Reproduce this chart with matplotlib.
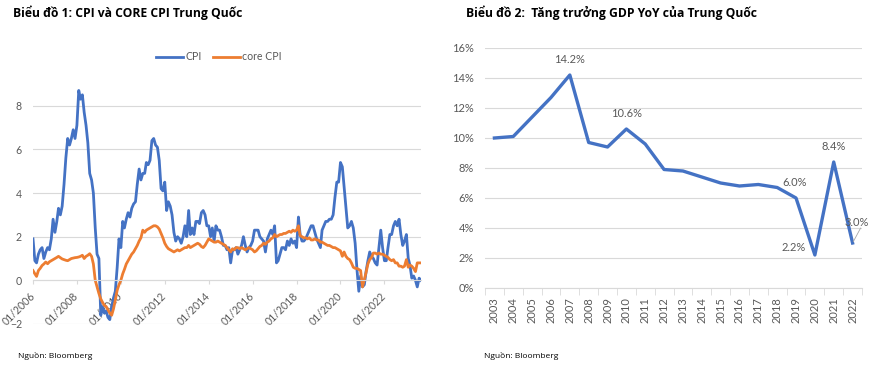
import numpy as np
import pandas as pd
from matplotlib import pyplot as plt
import matplotlib.dates as mdates
from matplotlib.ticker import MultipleLocator

# ---- data ----
# China CPI YoY (%), monthly Jan 2006 - Sep 2023
cpi = [
    1.9, 0.9, 0.8, 1.2, 1.4, 1.5, 1.0, 1.3, 1.5, 1.4, 1.9, 2.8,   # 2006
    2.2, 2.7, 3.3, 3.0, 3.4, 4.4, 5.6, 6.5, 6.2, 6.5, 6.9, 6.5,   # 2007
    7.1, 8.7, 8.3, 8.5, 7.7, 7.1, 6.3, 4.9, 4.6, 4.0, 2.4, 1.2,   # 2008
    1.0, -1.6, -1.2, -1.5, -1.4, -1.7, -1.8, -1.2, -0.8, -0.5, 0.6, 1.9,  # 2009
    1.5, 2.7, 2.4, 2.8, 3.1, 2.9, 3.3, 3.5, 3.6, 4.4, 5.1, 4.6,   # 2010
    4.9, 4.9, 5.4, 5.3, 5.5, 6.4, 6.5, 6.2, 6.1, 5.5, 4.2, 4.1,   # 2011
    4.5, 3.2, 3.6, 3.4, 3.0, 2.2, 1.8, 2.0, 1.9, 1.7, 2.0, 2.5,   # 2012
    2.0, 3.2, 2.1, 2.4, 2.1, 2.7, 2.7, 2.6, 3.1, 3.2, 3.0, 2.5,   # 2013
    2.5, 2.0, 2.4, 1.8, 2.5, 2.3, 2.3, 2.0, 1.6, 1.6, 1.4, 1.5,   # 2014
    0.8, 1.4, 1.4, 1.5, 1.2, 1.4, 1.6, 2.0, 1.6, 1.3, 1.5, 1.6,   # 2015
    1.8, 2.3, 2.3, 2.3, 2.0, 1.9, 1.8, 1.3, 1.9, 2.1, 2.3, 2.1,   # 2016
    2.5, 0.8, 0.9, 1.2, 1.5, 1.5, 1.4, 1.8, 1.6, 1.9, 1.7, 1.8,   # 2017
    1.5, 2.9, 2.1, 1.8, 1.8, 1.9, 2.1, 2.3, 2.5, 2.5, 2.2, 1.9,   # 2018
    1.7, 1.5, 2.3, 2.5, 2.7, 2.7, 2.8, 2.8, 3.0, 3.8, 4.5, 4.5,   # 2019
    5.4, 5.2, 4.3, 3.3, 2.4, 2.5, 2.7, 2.4, 1.7, 0.5, -0.5, 0.2,  # 2020
    -0.3, -0.2, 0.4, 0.9, 1.3, 1.1, 1.0, 0.8, 0.7, 1.5, 2.3, 1.5,  # 2021
    0.9, 0.9, 1.5, 2.1, 2.1, 2.5, 2.7, 2.5, 2.8, 2.1, 1.6, 1.8,   # 2022
    2.1, 1.0, 0.7, 0.1, 0.2, 0.0, -0.3, 0.1, 0.0,                 # 2023
]
# core CPI YoY (%), same months
core_cpi = [
    0.45, 0.3, 0.18, 0.45, 0.55, 0.68, 0.75, 0.84, 0.76, 0.85, 0.9, 0.95,
    1.0, 1.05, 1.1, 1.04, 0.98, 0.95, 0.92, 0.9, 0.95, 1.0, 1.02, 1.04,
    1.05, 1.07, 1.1, 1.15, 1.0, 1.1, 1.15, 1.22, 1.1, 0.75, 0.0, -0.3,
    -0.6, -0.85, -1.0, -1.15, -1.2, -1.35, -1.5, -1.6, -1.3, -0.9, -0.45, -0.2,
    0.0, 0.3, 0.5, 0.75, 0.9, 1.05, 1.2, 1.3, 1.45, 1.6, 1.8, 1.95,
    2.3, 2.2, 2.3, 2.35, 2.4, 2.45, 2.5, 2.5, 2.45, 2.35, 2.15, 1.95,
    1.7, 1.55, 1.45, 1.4, 1.35, 1.3, 1.35, 1.4, 1.35, 1.4, 1.45, 1.5,
    1.5, 1.6, 1.5, 1.55, 1.6, 1.65, 1.7, 1.65, 1.55, 1.5, 1.6, 1.75,
    1.9, 1.85, 1.8, 1.75, 1.75, 1.8, 1.75, 1.7, 1.65, 1.6, 1.5, 1.4,
    1.3, 1.45, 1.4, 1.5, 1.5, 1.45, 1.5, 1.45, 1.4, 1.45, 1.5, 1.45,
    1.4, 1.3, 1.35, 1.45, 1.55, 1.6, 1.7, 1.65, 1.75, 1.8, 1.9, 1.95,
    2.1, 2.0, 2.05, 2.1, 2.1, 2.15, 2.15, 2.2, 2.25, 2.2, 2.3, 2.25,
    2.3, 2.5, 2.05, 2.0, 1.95, 1.95, 1.9, 1.95, 1.85, 1.85, 1.9, 1.85,
    1.85, 1.75, 1.75, 1.7, 1.65, 1.6, 1.6, 1.55, 1.5, 1.5, 1.45, 1.4,
    1.35, 1.1, 1.3, 1.1, 1.0, 0.95, 0.8, 0.6, 0.55, 0.55, 0.5, 0.45,
    -0.3, 0.05, 0.35, 0.75, 0.95, 1.05, 1.25, 1.25, 1.2, 1.25, 1.2, 1.2,
    1.15, 1.1, 1.05, 0.95, 0.9, 0.95, 0.8, 0.8, 0.65, 0.65, 0.6, 0.65,
    0.95, 0.6, 0.7, 0.65, 0.55, 0.4, 0.8, 0.8, 0.8,
]
months = pd.date_range('2006-01-01', periods=len(cpi), freq='MS')

# China GDP growth YoY (%)
years = [str(y) for y in range(2003, 2023)]
gdp = [10.0, 10.1, 11.4, 12.7, 14.2, 9.7, 9.4, 10.6, 9.6, 7.9,
       7.8, 7.4, 7.0, 6.8, 6.9, 6.7, 6.0, 2.2, 8.4, 3.0]
labelled_years = ['2007', '2010', '2019', '2020', '2021', '2022']

BLUE = '#4472C4'
ORANGE = '#ED7D31'
GRID = '#D9D9D9'
TXT = '#595959'
TICKFONT = ['Lato', 'DejaVu Sans']
HEADFONT = ['Open Sans', 'DejaVu Sans']
TS = 7.6  # tick label size

fig = plt.figure(figsize=(8.89, 3.71), dpi=100)

# ---- chart 1: CPI vs core CPI ----
ax1 = fig.add_axes([33 / 889, 47 / 371, 388 / 889, 251 / 371])
ax1.plot(months, cpi, color=BLUE, lw=2.0, label='CPI')
ax1.plot(months, core_cpi, color=ORANGE, lw=2.0, label='core CPI')
ax1.set_ylim(-2, 9.5)
ax1.set_yticks([-2, 0, 2, 4, 6, 8])
ax1.set_xlim(months[0], months[-1])
ax1.xaxis.set_major_locator(mdates.YearLocator(2, month=1, day=1))
ax1.xaxis.set_major_formatter(mdates.DateFormatter('%m/%Y'))
ax1.grid(axis='y', color=GRID, lw=0.8)
ax1.set_axisbelow(True)
for s in ['top', 'right', 'left']:
    ax1.spines[s].set_visible(False)
ax1.spines['bottom'].set_position(('data', 0))
ax1.spines['bottom'].set_color(GRID)
ax1.tick_params(axis='y', length=0, pad=8, labelsize=TS, labelcolor=TXT)
ax1.tick_params(axis='x', length=3, color=GRID, pad=7, labelsize=TS, labelcolor=TXT)
for t in ax1.get_xticklabels():
    t.set_rotation(45)
    t.set_ha('right')
    t.set_va('center')
    t.set_rotation_mode('anchor')
for t in ax1.get_xticklabels() + ax1.get_yticklabels():
    t.set_family(TICKFONT)
leg = ax1.legend(loc='center', bbox_to_anchor=(0.479, 1.064), ncol=2, frameon=False,
                 handlelength=2.6, handletextpad=0.2, columnspacing=1.05,
                 labelcolor=TXT, prop={'family': TICKFONT, 'size': TS})

fig.text(13 / 889, 1 - 13 / 371, 'Biểu đồ 1: CPI và CORE CPI Trung Quốc', fontsize=8.7,
         fontweight='bold', family=HEADFONT, va='center', ha='left')
fig.text(18 / 889, 1 - 356 / 371, 'Nguồn: Bloomberg', fontsize=6, family=HEADFONT,
         va='center', ha='left')

# ---- chart 2: GDP growth ----
ax2 = fig.add_axes([485 / 889, 83 / 371, 377 / 889, 240 / 371])
x = np.arange(len(years))
ax2.plot(x, gdp, color=BLUE, lw=2.4)
ax2.set_ylim(0, 16)
ax2.yaxis.set_major_locator(MultipleLocator(2))
ax2.yaxis.set_major_formatter(lambda v, p: f'{v:.0f}%')
ax2.set_xlim(-0.5, len(years) - 0.5)
ax2.set_xticks(x)
ax2.set_xticklabels(years, rotation=90)
ax2.set_xticks(np.arange(-0.5, len(years)), minor=True)
ax2.grid(axis='y', color=GRID, lw=0.8)
ax2.set_axisbelow(True)
for s in ['top', 'right', 'left']:
    ax2.spines[s].set_visible(False)
ax2.spines['bottom'].set_color(GRID)
ax2.tick_params(axis='y', length=0, pad=8, labelsize=TS + 0.4, labelcolor=TXT)
ax2.tick_params(axis='x', which='major', length=0, pad=6.5, labelsize=TS + 0.4, labelcolor=TXT)
ax2.tick_params(axis='x', which='minor', length=5, color=GRID)
for t in ax2.get_xticklabels() + ax2.get_yticklabels():
    t.set_family(TICKFONT)

# data labels
offsets = {'2007': (0, 11.5), '2010': (0, 11.5), '2019': (-0.7, 11.3),
           '2020': (-15.4, 5.5), '2021': (0, 11), '2022': (3.3, 14.6)}
for yr in labelled_years:
    i = years.index(yr)
    dx, dy = offsets[yr]
    ax2.annotate(f'{gdp[i]:.1f}%', (i, gdp[i]), xytext=(dx, dy), textcoords='offset points',
                 ha='center', va='center', fontsize=8, color=TXT, family=TICKFONT,
                 annotation_clip=False)
# small leader line for the last label
i = years.index('2022')
ax2.annotate('', (i, gdp[i]), xytext=(5.8, 10.8), textcoords='offset points',
             arrowprops=dict(arrowstyle='-', color='#A6A6A6', lw=0.6, shrinkA=0, shrinkB=1))

fig.text(466 / 889, 1 - 13 / 371, 'Biểu đồ 2:  Tăng trưởng GDP YoY của Trung Quốc',
         fontsize=8.7, fontweight='bold', family=HEADFONT, va='center', ha='left')
fig.text(484 / 889, 1 - 356 / 371, 'Nguồn: Bloomberg', fontsize=6, family=HEADFONT,
         va='center', ha='left')

plt.savefig('out.png', dpi=100)
